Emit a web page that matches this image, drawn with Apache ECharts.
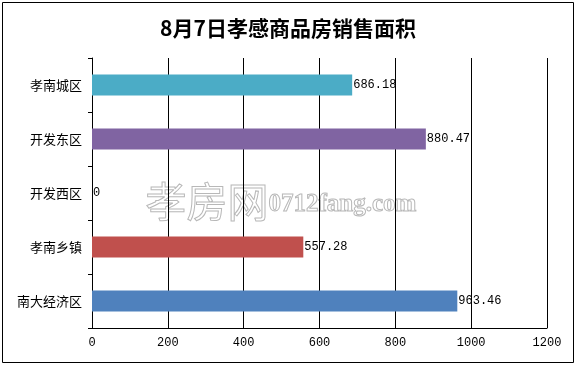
<!DOCTYPE html>
<html>
<head>
<meta charset="utf-8">
<script src="https://cdn.jsdelivr.net/npm/echarts@6/dist/echarts.min.js"></script>
<style>html,body{margin:0;padding:0;background:#fff}#c{width:576px;height:366px}</style>
</head>
<body>
<div id="c"></div>
<script>
const titleText = '8月7日孝感商品房销售面积';
const categories = ['孝南城区', '开发东区', '开发西区', '孝南乡镇', '南大经济区'];
const values = [686.18, 880.47, 0, 557.28, 963.46];
const barColors = ['#4BACC6', '#8064A2', '#9BBB59', '#C0504D', '#4F81BD'];
const xTicks = [0, 200, 400, 600, 800, 1000, 1200];

const chart = echarts.init(document.getElementById('c'), null, {renderer: 'canvas'});
chart.setOption({
  animation: false,
  backgroundColor: '#fff',
  title: {
    text: titleText, left: 'center', top: 13,
    textStyle: {fontFamily: 'Noto Sans CJK SC', fontWeight: 'bold', fontSize: 21, color: '#000'}
  },
  graphic: [
    {type: 'rect', shape: {x: 2.5, y: 2.5, width: 571, height: 360}, style: {fill: 'none', stroke: '#000', lineWidth: 1}, z: 100},
    {type: 'text', left: 145, top: 180, z: -10, silent: true,
     style: {text: '孝房网', font: '41px "Noto Sans CJK SC"', fill: 'rgba(255,255,255,0)', stroke: '#b8b8b8', lineWidth: 1}},
    {type: 'text', left: 268, top: 192, z: -10, silent: true,
     style: {text: '0712fang.com', font: 'bold 25px "Liberation Serif"', fill: 'rgba(255,255,255,0)', stroke: '#b8b8b8', lineWidth: 1}}
  ],
  grid: {left: 92, right: 29, top: 58, bottom: 38, containLabel: false},
  xAxis: {
    type: 'value', min: xTicks[0], max: xTicks[xTicks.length - 1], interval: 200,
    axisLine: {show: true, lineStyle: {color: '#000', width: 1}},
    axisTick: {show: false},
    axisLabel: {color: '#000', fontFamily: 'Liberation Mono', fontSize: 12, margin: 9, formatter: v => String(v)},
    splitLine: {show: true, lineStyle: {color: '#000', width: 1}}
  },
  yAxis: {
    type: 'category', data: categories, inverse: true,
    axisLine: {show: true, lineStyle: {color: '#000', width: 1}},
    axisTick: {show: true, length: 4, lineStyle: {color: '#000'}},
    axisLabel: {color: '#000', fontFamily: 'Noto Sans CJK SC', fontSize: 13, margin: 10}
  },
  series: [{
    type: 'bar',
    data: values.map((v, i) => ({value: v, itemStyle: {color: barColors[i]}})),
    barWidth: 21,
    label: {show: true, position: 'right', distance: 1, color: '#000', fontFamily: 'Liberation Mono', fontSize: 12}
  }]
});
</script>
</body>
</html>
